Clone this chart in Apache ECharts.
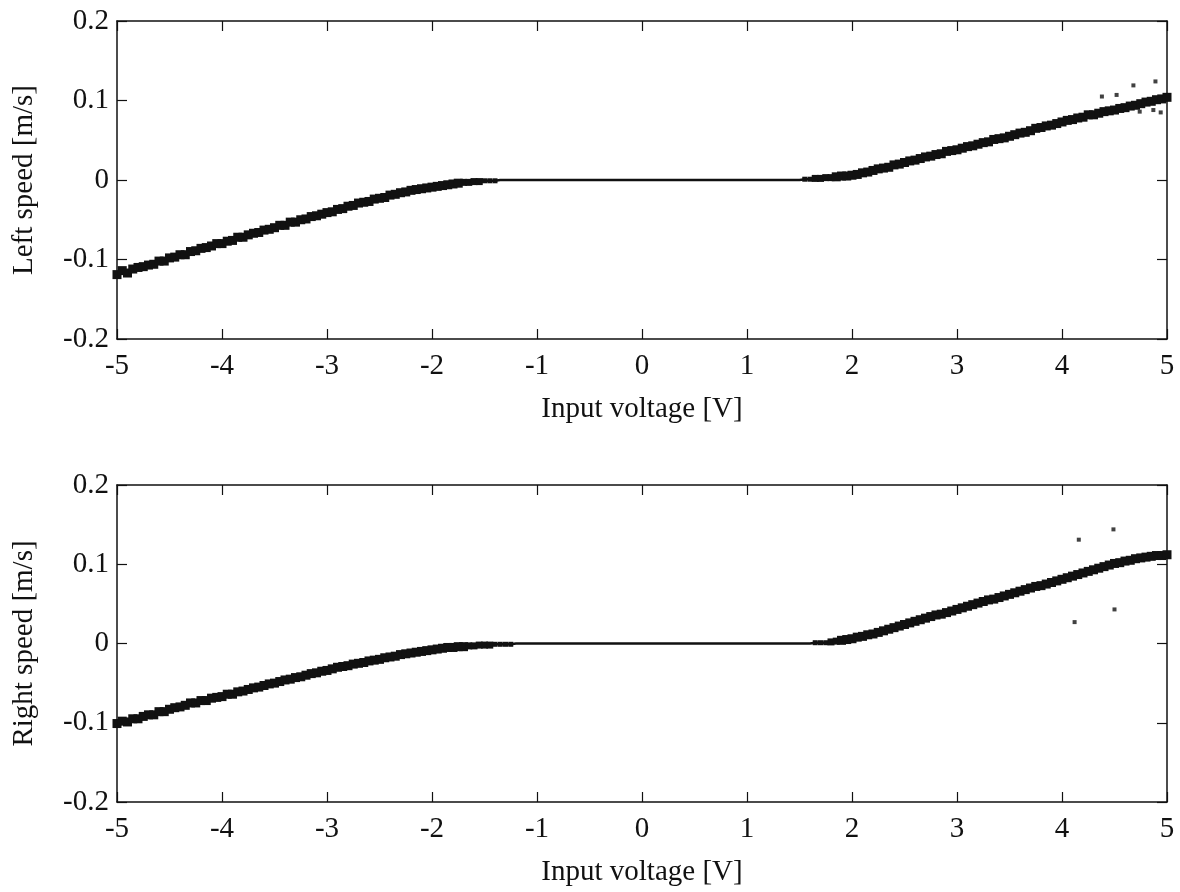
<!DOCTYPE html>
<html>
<head>
<meta charset="utf-8">
<script src="https://cdn.jsdelivr.net/npm/echarts@6/dist/echarts.min.js"></script>
<style>
html,body{margin:0;padding:0;background:#fff;}
#chart{width:1180px;height:892px;}
</style>
</head>
<body>
<div id="chart"></div>
<script>
// Input voltage sampled from -5 V to 5 V every 0.05 V (201 samples)
const voltageStart = -5;
const voltageStep = 0.05;

// Left wheel speed [m/s], one value per voltage sample
const leftSpeed = [
-0.119,-0.114,-0.117,-0.112,-0.110,-0.109,-0.107,-0.106,-0.102,-0.102,
-0.098,-0.097,-0.094,-0.094,-0.090,-0.089,-0.086,-0.085,-0.083,-0.080,
-0.080,-0.077,-0.076,-0.072,-0.072,-0.069,-0.067,-0.066,-0.063,-0.062,
-0.060,-0.057,-0.057,-0.053,-0.053,-0.050,-0.049,-0.046,-0.045,-0.043,
-0.041,-0.040,-0.037,-0.036,-0.033,-0.032,-0.029,-0.028,-0.027,-0.024,
-0.023,-0.022,-0.019,-0.018,-0.016,-0.015,-0.013,-0.012,-0.011,-0.010,
-0.009,-0.008,-0.007,-0.006,-0.005,-0.004,-0.003,-0.003,-0.002,-0.002,
-0.001,-0.001,-0.001,
0,0,0,0,0,0,0,0,0,0,
0,0,0,0,0,0,0,0,0,0,
0,0,0,0,0,0,0,0,0,0,
0,0,0,0,0,0,0,0,0,0,
0,0,0,0,0,0,0,0,0,0,
0,0,0,0,0,0,0,0,
0.001,0.001,0.002,0.002,0.003,0.003,0.004,0.005,0.005,0.006,
0.007,0.009,0.010,0.012,0.014,0.015,0.016,0.019,0.020,0.022,
0.024,0.025,0.027,0.029,0.030,0.032,0.033,0.036,0.037,0.038,
0.040,0.042,0.043,0.045,0.047,0.048,0.051,0.052,0.053,0.055,
0.057,0.059,0.060,0.062,0.065,0.066,0.068,0.069,0.071,0.073,
0.075,0.076,0.078,0.079,0.082,0.082,0.084,0.086,0.087,0.088,
0.090,0.091,0.093,0.094,0.096,0.098,0.099,0.101,0.102,0.104
];

// Right wheel speed [m/s], one value per voltage sample
const rightSpeed = [
-0.101,-0.098,-0.099,-0.095,-0.095,-0.092,-0.090,-0.090,-0.086,-0.086,
-0.083,-0.081,-0.080,-0.078,-0.075,-0.075,-0.072,-0.072,-0.069,-0.068,
-0.067,-0.064,-0.064,-0.061,-0.060,-0.058,-0.056,-0.055,-0.053,-0.051,
-0.050,-0.048,-0.046,-0.045,-0.043,-0.042,-0.040,-0.038,-0.037,-0.035,
-0.034,-0.032,-0.030,-0.029,-0.028,-0.026,-0.025,-0.024,-0.022,-0.021,
-0.020,-0.018,-0.017,-0.016,-0.014,-0.013,-0.012,-0.011,-0.010,-0.009,
-0.008,-0.007,-0.006,-0.005,-0.005,-0.004,-0.004,-0.003,-0.003,-0.002,
-0.002,-0.002,-0.001,-0.001,-0.001,-0.001,
0,0,0,0,0,0,0,0,0,0,
0,0,0,0,0,0,0,0,0,0,
0,0,0,0,0,0,0,0,0,0,
0,0,0,0,0,0,0,0,0,0,
0,0,0,0,0,0,0,0,0,0,
0,0,0,0,0,0,0,
0.001,0.001,0.001,0.002,0.003,0.004,0.005,0.006,
0.008,0.009,0.011,0.012,0.014,0.016,0.018,0.020,0.022,0.024,
0.026,0.028,0.030,0.032,0.034,0.036,0.037,0.039,0.041,0.043,
0.045,0.047,0.049,0.051,0.053,0.055,0.056,0.058,0.060,0.062,
0.064,0.066,0.068,0.070,0.072,0.073,0.075,0.077,0.079,0.081,
0.083,0.085,0.087,0.089,0.091,0.093,0.095,0.097,0.099,0.101,
0.102,0.104,0.105,0.107,0.108,0.109,0.110,0.111,0.111,0.112
];

// Stray measurement points [voltage, speed]
const leftOutliers = [[4.38,0.105],[4.52,0.107],[4.68,0.119],[4.89,0.124],[4.74,0.086],[4.87,0.088],[4.94,0.085]];
const rightOutliers = [[4.16,0.131],[4.49,0.144],[4.50,0.043],[4.12,0.027]];

// Axis settings / labels
const xMin = -5, xMax = 5, xInterval = 1;
const yMin = -0.2, yMax = 0.2, yInterval = 0.1;
const xTitle = 'Input voltage [V]';
const yTitles = ['Left speed [m/s]', 'Right speed [m/s]'];

const FONT = "'Liberation Serif', 'DejaVu Serif', serif";
const INK = '#111';

function toPairs(arr) {
  return arr.map((v, i) => [voltageStart + i * voltageStep, v]);
}

const grids = [
  {left: 117, top: 21, width: 1050, height: 318},
  {left: 117, top: 485, width: 1050, height: 317}
];

const xAxes = [], yAxes = [];
grids.forEach((g, gi) => {
  xAxes.push({
    type: 'value', gridIndex: gi, min: xMin, max: xMax, interval: xInterval, position: 'bottom',
    name: xTitle, nameLocation: 'middle', nameGap: 56,
    nameTextStyle: {fontFamily: FONT, fontSize: 29, color: INK},
    axisLine: {show: true, onZero: false, lineStyle: {color: INK, width: 1.5}},
    axisTick: {show: true, inside: true, length: 10, lineStyle: {color: INK, width: 1.2}},
    axisLabel: {fontFamily: FONT, fontSize: 29, color: INK, margin: 13},
    splitLine: {show: false}
  });
  xAxes.push({
    type: 'value', gridIndex: gi, min: xMin, max: xMax, interval: xInterval, position: 'top',
    axisLine: {show: true, onZero: false, lineStyle: {color: INK, width: 1.5}},
    axisTick: {show: true, inside: true, length: 10, lineStyle: {color: INK, width: 1.2}},
    axisLabel: {show: false}, splitLine: {show: false}
  });
  yAxes.push({
    type: 'value', gridIndex: gi, min: yMin, max: yMax, interval: yInterval, position: 'left',
    name: yTitles[gi], nameLocation: 'middle', nameGap: 78, nameRotate: 90,
    nameTextStyle: {fontFamily: FONT, fontSize: 29, color: INK},
    axisLine: {show: true, onZero: false, lineStyle: {color: INK, width: 1.5}},
    axisTick: {show: true, inside: true, length: 10, lineStyle: {color: INK, width: 1.2}},
    axisLabel: {fontFamily: FONT, fontSize: 29, color: INK, margin: 8,
      formatter: v => (Math.abs(v) < 1e-9 ? '0' : v.toFixed(1))},
    splitLine: {show: false}
  });
  yAxes.push({
    type: 'value', gridIndex: gi, min: yMin, max: yMax, interval: yInterval, position: 'right',
    axisLine: {show: true, onZero: false, lineStyle: {color: INK, width: 1.5}},
    axisTick: {show: true, inside: true, length: 10, lineStyle: {color: INK, width: 1.2}},
    axisLabel: {show: false}, splitLine: {show: false}
  });
});

function bandSeries(arr, gi) {
  return {
    type: 'line', xAxisIndex: gi * 2, yAxisIndex: gi * 2,
    data: toPairs(arr),
    showSymbol: true, showAllSymbol: true, symbol: 'rect',
    symbolSize: (d) => {
      const a = Math.abs(d[1]);
      return a >= 0.004 ? 9 : (a >= 0.002 ? 7 : (a >= 0.001 ? 5 : 0));
    },
    lineStyle: {color: INK, width: 2.5},
    itemStyle: {color: INK, borderWidth: 0},
    emphasis: {disabled: true}, silent: true, z: 3
  };
}

function outlierSeries(pts, gi) {
  return {
    type: 'scatter', xAxisIndex: gi * 2, yAxisIndex: gi * 2,
    data: pts, symbol: 'rect', symbolSize: 4,
    itemStyle: {color: INK}, silent: true, z: 3
  };
}

const chart = echarts.init(document.getElementById('chart'), null, {renderer: 'canvas'});
chart.setOption({
  animation: false,
  backgroundColor: '#fff',
  grid: grids.map(g => Object.assign({containLabel: false}, g)),
  xAxis: xAxes,
  yAxis: yAxes,
  series: [
    bandSeries(leftSpeed, 0),
    outlierSeries(leftOutliers, 0),
    bandSeries(rightSpeed, 1),
    outlierSeries(rightOutliers, 1)
  ]
});
</script>
</body>
</html>
